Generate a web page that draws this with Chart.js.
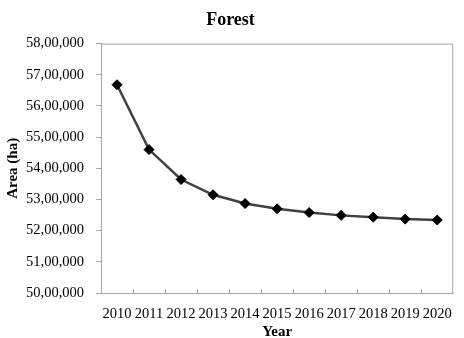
<!DOCTYPE html>
<html>
<head>
<meta charset="utf-8">
<script src="https://cdn.jsdelivr.net/npm/chart.js@4/dist/chart.umd.min.js"></script>
<style>
  html, body { margin: 0; padding: 0; background: #fff; }
  #wrap { width: 464px; height: 338px; }
</style>
</head>
<body>
<div id="wrap"><canvas id="forestchart"></canvas></div>
<script>
const years = ['2010', '2011', '2012', '2013', '2014', '2015', '2016', '2017', '2018', '2019', '2020'];
const forestArea = [5668000, 5460000, 5364000, 5315000, 5287000, 5270000, 5258000, 5249000, 5243000, 5237000, 5234000];
const yMin = 5000000;
const yMax = 5800000;
const yStep = 100000;

function indianFormat(n) {
  const s = String(Math.round(n));
  if (s.length <= 3) return s;
  const last3 = s.slice(-3);
  let rest = s.slice(0, -3);
  const parts = [];
  while (rest.length > 2) {
    parts.unshift(rest.slice(-2));
    rest = rest.slice(0, -2);
  }
  if (rest.length) parts.unshift(rest);
  return parts.join(',') + ',' + last3;
}

// box round the plot area plus the short inner tick marks on the x axis
const plotBox = {
  id: 'plotBox',
  afterDraw(chart) {
    const ctx = chart.ctx;
    const a = chart.chartArea;
    const x = chart.scales.x;
    ctx.save();
    ctx.strokeStyle = '#a6a6a6';
    ctx.lineWidth = 1;
    ctx.strokeRect(a.left + 0.5, a.top + 0.5, a.right - a.left - 1, a.bottom - a.top);
    const n = years.length;
    const w = (x.right - x.left) / n;
    ctx.beginPath();
    for (let i = 1; i < n; i++) {
      const px = Math.round(x.left + i * w) + 0.5;
      ctx.moveTo(px, a.bottom);
      ctx.lineTo(px, a.bottom - 4);
    }
    ctx.stroke();
    ctx.restore();
  }
};

new Chart(document.getElementById('forestchart'), {
  type: 'line',
  plugins: [plotBox],
  data: {
    labels: years,
    datasets: [
      {
        data: forestArea,
        borderColor: '#404040',
        borderWidth: 2.5,
        pointStyle: 'rectRot',
        pointRadius: 5,
        pointBackgroundColor: '#000',
        pointBorderColor: '#000',
        pointBorderWidth: 1,
        tension: 0,
        fill: false,
      }
    ]
  },
  options: {
    responsive: true,
    maintainAspectRatio: false,
    animation: false,
    layout: {
      padding: { left: 0, right: 3, top: 0, bottom: 0 }
    },
    plugins: {
      legend: { display: false },
      tooltip: { enabled: false },
      title: {
        display: true,
        text: 'Forest',
        color: '#000',
        font: { family: 'Liberation Serif', size: 18, weight: 'bold' },
        padding: { top: 10, bottom: 12 }
      }
    },
    scales: {
      x: {
        offset: true,
        border: { color: '#a6a6a6' },
        grid: { display: true, offset: true, drawOnChartArea: false, drawTicks: false },
        ticks: {
          color: '#000',
          padding: 12,
          maxRotation: 0,
          autoSkip: false,
          font: { family: 'Liberation Serif', size: 14.5 }
        },
        title: {
          display: true,
          text: 'Year',
          color: '#000',
          font: { family: 'Liberation Serif', size: 15, weight: 'bold', lineHeight: 0.8 },
          padding: { top: 2, bottom: 0 }
        },
        afterFit: function (scale) { scale.height = 45; }
      },
      y: {
        min: yMin,
        max: yMax,
        border: { color: '#a6a6a6' },
        grid: { drawOnChartArea: false, tickLength: 5, color: '#a6a6a6' },
        ticks: {
          stepSize: yStep,
          color: '#000',
          padding: 12,
          font: { family: 'Liberation Serif', size: 14.5 },
          callback: function (v) { return indianFormat(v); }
        },
        title: {
          display: true,
          text: 'Area (ha)',
          color: '#000',
          font: { family: 'Liberation Serif', size: 15, weight: 'bold' },
          padding: { top: 4, bottom: 0 }
        },
        afterFit: function (scale) { scale.width = 101; }
      }
    }
  }
});
</script>
</body>
</html>
